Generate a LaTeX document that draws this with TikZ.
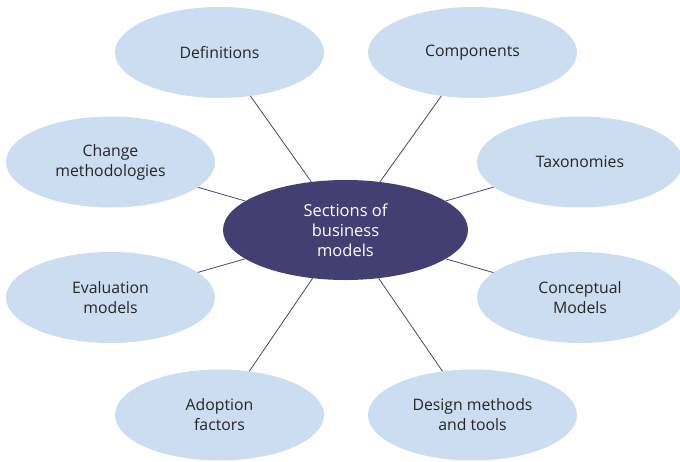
\documentclass[tikz,border=0pt]{standalone}
\usepackage{fontspec}
\setmainfont{Open Sans}
\usetikzlibrary{shapes.geometric}
\definecolor{lightfill}{HTML}{CCDCF1}
\definecolor{darkfill}{HTML}{433F73}
\definecolor{linecol}{HTML}{47437A}
\begin{document}
\begin{tikzpicture}[x=1pt,y=-1pt,
  outer/.style={ellipse,fill=lightfill,draw=none,inner sep=0pt,
    minimum width=209pt,minimum height=91pt,align=center,
    text=black!85,font=\fontsize{15.8}{20}\selectfont},
  hub/.style={ellipse,fill=darkfill,draw=none,inner sep=0pt,
    minimum width=245pt,minimum height=100pt,align=center,
    text=white,font=\fontsize{16.5}{20}\selectfont},
  link/.style={draw=linecol,line width=0.8pt}]
\useasboundingbox (0,0) rectangle (680,461);
\node[hub] (c) at (345.5,230) {Sections of\\business\\models};
\node[outer] (def) at (219.5,52.5) {Definitions};
\node[outer] (comp) at (472.5,52.5) {Components};
\node[outer] (chg) at (110.5,162) {Change\\methodologies};
\node[outer,minimum width=206pt] (tax) at (580,162) {Taxonomies};
\node[outer] (eval) at (110.5,297.5) {Evaluation\\models};
\node[outer,minimum width=206pt] (conc) at (580,297.5) {Conceptual\\Models};
\node[outer] (adop) at (219.5,415) {Adoption\\factors};
\node[outer] (des) at (472.5,415) {Design methods\\and tools};
\foreach \n in {def,comp,chg,tax,eval,conc,adop,des}
  \draw[link] (c) -- (\n);
\end{tikzpicture}
\end{document}
